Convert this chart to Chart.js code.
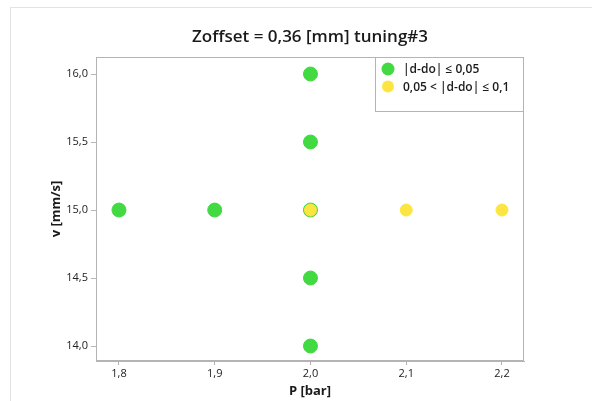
<!DOCTYPE html>
<html>
<head>
<meta charset="utf-8">
<script src="https://cdn.jsdelivr.net/npm/chart.js@4"></script>
<style>
  html, body { margin: 0; padding: 0; background: #fff; }
  #wrap { position: relative; width: 592px; height: 401px; }
  #frame { position: absolute; left: 10px; top: 7px; right: 0; bottom: 0;
           border-left: 1px solid #e2e2e2; border-top: 1px solid #e2e2e2; pointer-events: none; }
  canvas { position: absolute; left: 0; top: 0; }
</style>
</head>
<body>
<div id="wrap">
  <canvas id="chart" width="592" height="401"></canvas>
  <div id="frame"></div>
</div>
<script>
const chartTitle = "Zoffset = 0,36 [mm] tuning#3";
const xTitle = "P [bar]";
const yTitle = "v [mm/s]";

// serie 1: |d-do| <= 0,05
const greenLabel = "|d-do| \u2264 0,05";
const greenP = [1.8, 1.9, 2.0, 2.0, 2.0, 2.0, 2.0];
const greenV = [15.0, 15.0, 16.0, 15.5, 15.0, 14.5, 14.0];

// serie 2: 0,05 < |d-do| <= 0,1
const yellowLabel = "0,05 < |d-do| \u2264 0,1";
const yellowP = [2.0, 2.1, 2.2];
const yellowV = [15.0, 15.0, 15.0];

const xTicks = [1.8, 1.9, 2.0, 2.1, 2.2];
const yTicks = [14.0, 14.5, 15.0, 15.5, 16.0];

const fontFam = "'Open Sans', 'Noto Sans', sans-serif";
const comma = v => Number(v).toFixed(1).replace('.', ',');

// bordo + titolo + legenda disegnati a mano
const extras = {
  id: 'extras',
  afterDraw(chart) {
    const ctx = chart.ctx;
    const a = chart.chartArea;
    ctx.save();
    ctx.strokeStyle = '#b4b4b4';
    ctx.lineWidth = 1;
    ctx.strokeRect(a.left + 0.5, a.top + 0.5, a.right - a.left - 1, a.bottom - a.top - 1);

    ctx.fillStyle = '#1a1a1a';
    ctx.font = "600 17px " + fontFam;
    ctx.textAlign = 'center';
    ctx.textBaseline = 'middle';
    ctx.fillText(chartTitle, (a.left + a.right) / 2, 37);

    // legenda
    const lx = 375, ly = a.top, lw = a.right - 375, lh = 55;
    ctx.fillStyle = '#fff';
    ctx.fillRect(lx, ly, lw, lh);
    ctx.strokeStyle = '#b4b4b4';
    ctx.strokeRect(lx + 0.5, ly + 0.5, lw - 1, lh - 1);
    ctx.font = "600 12px " + fontFam;
    ctx.textAlign = 'left';
    chart.data.datasets.forEach((ds, i) => {
      const cy = ly + 12 + i * 17.5;
      ctx.beginPath();
      ctx.arc(lx + 13, cy, i === 0 ? 6.5 : 6, 0, Math.PI * 2);
      ctx.fillStyle = ds.backgroundColor;
      ctx.fill();
      ctx.fillStyle = '#1a1a1a';
      ctx.fillText(ds.label, lx + 28, cy + 1);
    });
    ctx.restore();
  }
};

new Chart(document.getElementById('chart'), {
  type: 'scatter',
  data: {
    datasets: [
      {
        label: greenLabel,
        data: greenP.map((p, i) => ({ x: p, y: greenV[i] })),
        backgroundColor: '#42d942',
        borderColor: '#42d942',
        pointRadius: 7,
        pointHoverRadius: 7,
        order: 2
      },
      {
        label: yellowLabel,
        data: yellowP.map((p, i) => ({ x: p, y: yellowV[i] })),
        backgroundColor: '#fde541',
        borderColor: '#fde541',
        pointRadius: 6,
        pointHoverRadius: 6,
        order: 1
      }
    ]
  },
  options: {
    responsive: false,
    animation: false,
    layout: { padding: { top: 57, right: 68, left: 0, bottom: 0 } },
    plugins: {
      legend: { display: false },
      title: { display: false },
      tooltip: { enabled: false }
    },
    scales: {
      x: {
        type: 'linear',
        min: 1.776,
        max: 2.223,
        afterFit: s => { s.height = 40; },
        afterBuildTicks: s => { s.ticks = xTicks.map(v => ({ value: v })); },
        grid: { drawOnChartArea: false, drawTicks: true, tickLength: 4, color: '#b4b4b4' },
        border: { display: true, color: '#b4b4b4' },
        ticks: {
          padding: 2,
          color: '#222',
          font: { family: fontFam, size: 11 },
          callback: v => comma(v)
        },
        title: {
          display: true,
          text: xTitle,
          color: '#1a1a1a',
          font: { family: fontFam, size: 13, weight: '700' },
          padding: { top: 0, bottom: 2 }
        }
      },
      y: {
        type: 'linear',
        min: 13.89,
        max: 16.125,
        afterFit: s => { s.width = 96; },
        afterBuildTicks: s => { s.ticks = yTicks.map(v => ({ value: v })); },
        grid: { drawOnChartArea: false, drawTicks: true, tickLength: 5, color: '#b4b4b4' },
        border: { display: true, color: '#b4b4b4' },
        ticks: {
          padding: 3,
          color: '#222',
          font: { family: fontFam, size: 11 },
          callback: v => comma(v)
        },
        title: {
          display: true,
          text: yTitle,
          color: '#1a1a1a',
          font: { family: fontFam, size: 13, weight: '700' },
          padding: { top: 48, bottom: 0 }
        }
      }
    }
  },
  plugins: [extras]
});
</script>
</body>
</html>
